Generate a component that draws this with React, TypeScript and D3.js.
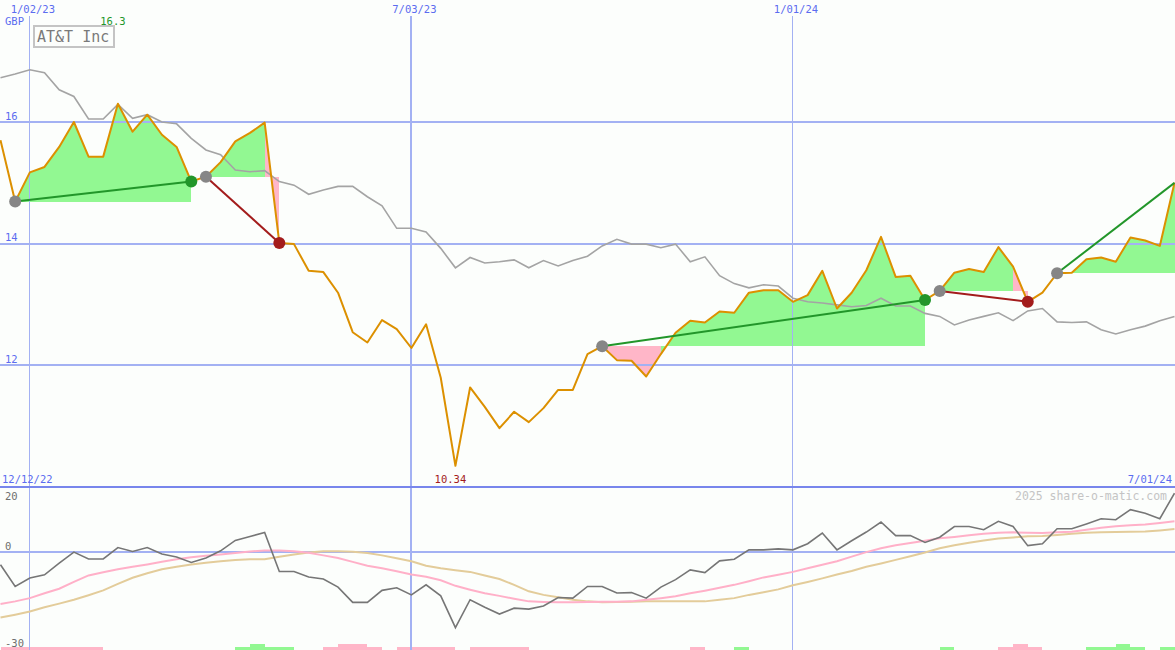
import * as d3 from "d3";

// weekly closes, GBP
const price = [
  15.70, 14.69, 15.17, 15.26, 15.59, 16.00, 15.43, 15.43, 16.30, 15.84,
  16.12, 15.79, 15.59, 15.02, 15.10, 15.34, 15.68, 15.82, 15.99, 14.01,
  13.99, 13.55, 13.53, 13.19, 12.54, 12.37, 12.74, 12.59, 12.28, 12.67,
  11.79, 10.34, 11.63, 11.31, 10.96, 11.23, 11.06, 11.29, 11.59, 11.59,
  12.18, 12.31, 12.08, 12.07, 11.81, 12.18, 12.53, 12.73, 12.70, 12.88,
  12.86, 13.19, 13.23, 13.23, 13.04, 13.15, 13.55, 12.93, 13.19, 13.56,
  14.11, 13.45, 13.47, 13.07, 13.22, 13.52, 13.58, 13.53, 13.94, 13.62,
  13.04, 13.19, 13.51, 13.52, 13.74, 13.77, 13.70, 14.10, 14.05, 13.96, 15.00,
];

// grey average line
const avg = [
  16.73, 16.79, 16.86, 16.81, 16.53, 16.42, 16.05, 16.05, 16.29, 16.06,
  16.12, 16.00, 15.97, 15.73, 15.54, 15.46, 15.21, 15.18, 15.20, 15.02,
  14.96, 14.81, 14.88, 14.94, 14.94, 14.77, 14.62, 14.25, 14.25, 14.19,
  13.92, 13.60, 13.77, 13.68, 13.70, 13.73, 13.60, 13.72, 13.63, 13.72,
  13.79, 13.96, 14.07, 13.99, 13.99, 13.93, 13.99, 13.70, 13.78, 13.47,
  13.34, 13.27, 13.32, 13.30, 13.10, 13.04, 13.02, 12.99, 12.96, 12.98,
  13.10, 12.97, 12.97, 12.85, 12.80, 12.66, 12.74, 12.80, 12.86, 12.73,
  12.89, 12.93, 12.71, 12.70, 12.71, 12.58, 12.51, 12.58, 12.64, 12.73, 12.80,
];

// lower panel
const osc = [
  -4.0, -10.7, -8.1, -7.1, -3.5, -0.1, -2.2, -2.2, 1.3, 0.1,
  1.3, -0.7, -1.6, -3.3, -1.9, 0.3, 3.5, 4.7, 6.0, -6.1,
  -6.1, -7.8, -8.4, -10.9, -15.6, -15.6, -11.9, -11.1, -13.3, -10.2,
  -13.6, -23.4, -14.8, -17.1, -19.2, -17.4, -17.7, -16.7, -14.1, -14.3,
  -10.7, -10.7, -12.7, -12.6, -14.3, -10.9, -8.6, -5.6, -6.4, -2.8,
  -2.3, 0.6, 0.6, 0.9, 0.6, 2.5, 5.8, 0.6, 3.4, 6.1,
  9.2, 5.0, 5.0, 2.9, 4.5, 7.8, 7.8, 6.8, 9.4, 7.8,
  1.9, 2.5, 7.1, 7.1, 8.6, 10.2, 9.9, 13.0, 11.9, 10.2, 18.1,
];
const pinkSig = [
  -16.1, -15.3, -14.3, -12.8, -11.4, -9.3, -7.3, -6.3, -5.4, -4.6,
  -3.9, -3.1, -2.3, -1.7, -1.2, -0.8, -0.4, 0.1, 0.4, 0.4,
  0.2, -0.3, -1.1, -1.9, -3.1, -4.3, -5.1, -6.0, -7.0, -7.7,
  -8.8, -10.5, -11.7, -12.8, -13.6, -14.5, -15.3, -15.5, -15.6, -15.6,
  -15.5, -15.4, -15.4, -15.3, -14.8, -14.3, -13.7, -12.8, -12.0, -11.1,
  -10.2, -9.1, -7.9, -7.1, -6.2, -5.1, -4.0, -2.9, -1.5, -0.1,
  1.1, 2.0, 2.7, 3.4, 4.2, 4.6, 5.1, 5.6, 5.9, 6.0,
  5.9, 5.8, 6.0, 6.2, 6.8, 7.4, 7.9, 8.2, 8.4, 8.9, 9.4,
];
const tanSig = [
  -20.3, -19.4, -18.4, -17.1, -16.0, -14.8, -13.4, -11.9, -9.9, -8.0,
  -6.6, -5.4, -4.6, -3.9, -3.4, -2.9, -2.5, -2.3, -2.3, -1.5,
  -0.8, -0.2, 0.2, 0.2, 0.0, -0.4, -1.1, -2.0, -2.9, -4.3,
  -5.1, -5.7, -6.2, -7.3, -8.4, -10.2, -12.2, -13.3, -14.0, -14.8,
  -15.3, -15.6, -15.5, -15.4, -15.3, -15.3, -15.3, -15.3, -15.3, -14.8,
  -14.3, -13.3, -12.5, -11.6, -10.3, -9.3, -8.2, -7.0, -5.9, -4.6,
  -3.6, -2.5, -1.4, -0.2, 1.1, 2.0, 2.8, 3.5, 4.1, 4.4,
  4.8, 4.9, 5.2, 5.6, 5.9, 6.0, 6.1, 6.2, 6.3, 6.6, 7.0,
];
// weekly signal blocks along the bottom edge (+ green, - pink)
const signalBars = [
  -1, -1, -1, -1, -1, -1, -1, 0, 0, 0, 0, 0, 0, 0, 0, 0,
  1, 2, 1, 1, 0, 0, -1, -2, -2, -1, 0, -1, -1, -1, -1, 0,
  -1, -1, -1, -1, 0, 0, 0, 0, 0, 0, 0, 0, 0, 0, 0, -1, 0, 0,
  1, 0, 0, 0, 0, 0, 0, 0, 0, 0, 0, 0, 0, 0, 1, 0, 0, 0,
  -1, -2, -1, 0, 0, 0, 1, 1, 2, 1, 0, 1,
];

// trades: week index of entry and exit
const tradeEntry = [1, 14, 41, 64, 72];
const tradeExit = [13, 19, 63, 70, 80];
const openTrade = 4;

const mainTicks = [16, 14, 12];
const lowTicks = [20, 0, -30];
const dateTicks = ["2023-01-02", "2023-07-03", "2024-01-01"];
const startLabel = "12/12/22";
const endLabel = "7/01/24";
const title = "AT&T Inc";
const currency = "GBP";
const watermark = "2025 share-o-matic.com";

const startDate = new Date(2022, 11, 19);
const endDate = new Date(2024, 6, 1);
const dates = d3.timeMonday.range(startDate, d3.timeDay.offset(endDate, 1));

const W = 1175;
const H = 650;
const FONT = "'DejaVu Sans Mono', monospace";
const GRID = "#a3b1f3";
const AXIS_TXT = "#5b6cf0";
const GREEN = "#22962a";
const RED = "#a31c1c";
const FILL_UP = "#92f892";
const FILL_DN = "#ffb6c8";

export default function App() {
  const x = d3.scaleTime().domain([startDate, endDate]).range([0.5, 1174.5]);
  const y = d3.scaleLinear().domain([12, 16]).range([365, 122]);
  const yLow = d3.scaleLinear().domain([-30, 20]).range([649, 487]);
  const yBar = d3.scaleLinear().domain([0, 2]).range([650, 643.5]);
  const px = (i: number) => x(dates[i]);

  const mainLine = d3.line<number>().x((_, i) => px(i)).y((d) => y(d));
  const lowLine = d3.line<number>().x((_, i) => px(i)).y((d) => yLow(d));
  const poly = d3.line<number[]>().x((d) => d[0]).y((d) => d[1]);

  const fills: { d: string; c: string }[] = [];
  tradeEntry.forEach((a, t) => {
    const b = tradeExit[t];
    const base = price[a];
    for (let k = a; k < b; k++) {
      const pts = [
        [px(k), y(price[k])],
        [px(k + 1), y(price[k + 1])],
        [px(k + 1), y(base)],
        [px(k), y(base)],
      ];
      fills.push({ d: poly(pts) + "Z", c: price[k + 1] >= base ? FILL_UP : FILL_DN });
    }
  });

  const maxIdx = d3.maxIndex(price);
  const minIdx = d3.minIndex(price);
  const parseD = d3.timeParse("%Y-%m-%d");
  const fmt = d3.timeFormat("%-m/%d/%y");
  const weekW = px(1) - px(0);

  return (
    <svg
      width={W}
      height={H}
      style={{ position: "absolute", left: 0, top: 0, background: "#fcfefc" }}
      fontFamily={FONT}
    >
      {/* signal blocks */}
      <g shapeRendering="crispEdges">
        {signalBars.map((v, i) =>
          v === 0 ? null : (
            <rect
              key={i}
              x={px(i)}
              width={weekW}
              y={yBar(Math.abs(v))}
              height={yBar(0) - yBar(Math.abs(v))}
              fill={v > 0 ? FILL_UP : FILL_DN}
            />
          )
        )}
      </g>

      {/* trade fills */}
      <g shapeRendering="crispEdges">
        {fills.map((f, i) => (
          <path key={i} d={f.d} fill={f.c} />
        ))}
      </g>

      {/* grid */}
      <g shapeRendering="crispEdges">
        {mainTicks.map((t) => (
          <line key={t} x1={0} x2={W} y1={y(t)} y2={y(t)} stroke={GRID} strokeWidth={2} />
        ))}
        <line x1={0} x2={W} y1={yLow(0)} y2={yLow(0)} stroke={GRID} strokeWidth={2} />
        {dateTicks.map((s) => {
          const d = parseD(s)!;
          return (
            <line
              key={s}
              x1={x(d)}
              x2={x(d)}
              y1={16}
              y2={H}
              stroke={GRID}
              strokeWidth={d.getMonth() === 6 ? 2 : 1}
            />
          );
        })}
        <line x1={0} x2={W} y1={yLow(20)} y2={yLow(20)} stroke="#7886ec" strokeWidth={2} />
      </g>

      {/* lower panel lines */}
      <path d={lowLine(tanSig)!} fill="none" stroke="#e3cc9a" strokeWidth={2} />
      <path d={lowLine(pinkSig)!} fill="none" stroke="#ffb0c8" strokeWidth={2} />
      <path d={lowLine(osc)!} fill="none" stroke="#767676" strokeWidth={1.6} />

      {/* price panel lines */}
      <path d={mainLine(avg)!} fill="none" stroke="#a4a4a4" strokeWidth={1.6} />
      <path d={mainLine(price)!} fill="none" stroke="#dc9000" strokeWidth={2} strokeLinejoin="round" />

      {/* trades */}
      {tradeEntry.map((a, t) => {
        const b = tradeExit[t];
        const up = price[b] >= price[a];
        return (
          <line
            key={t}
            x1={px(a)}
            y1={y(price[a])}
            x2={px(b)}
            y2={y(price[b])}
            stroke={up ? GREEN : RED}
            strokeWidth={2}
          />
        );
      })}
      {tradeEntry.map((a, t) => {
        const b = tradeExit[t];
        const up = price[b] >= price[a];
        return (
          <g key={t}>
            <circle cx={px(a)} cy={y(price[a])} r={6} fill="#868686" />
            {t !== openTrade && (
              <circle cx={px(b)} cy={y(price[b])} r={6} fill={up ? GREEN : RED} />
            )}
          </g>
        );
      })}

      {/* labels */}
      <g fontSize={10.5} fill={AXIS_TXT}>
        {dateTicks.map((s) => {
          const d = parseD(s)!;
          return (
            <text key={s} x={x(d) + 3} y={13} textAnchor="middle">
              {fmt(d)}
            </text>
          );
        })}
        <text x={5} y={25}>{currency}</text>
        {mainTicks.map((t) => (
          <text key={t} x={5} y={y(t) - 2.5}>
            {t}
          </text>
        ))}
        <text x={2} y={483}>{startLabel}</text>
        <text x={1172} y={483} textAnchor="end">{endLabel}</text>
      </g>
      <text x={px(maxIdx) - 5} y={25} fontSize={10.5} fill={GREEN} textAnchor="middle">
        {String(price[maxIdx])}
      </text>
      <text x={px(minIdx) - 5} y={483} fontSize={10.5} fill={RED} textAnchor="middle">
        {String(price[minIdx])}
      </text>
      <g fontSize={10.5} fill="#6e6e6e">
        {lowTicks.map((t) => (
          <text key={t} x={5} y={yLow(t) + (t === 20 ? 13 : -2)}>
            {t}
          </text>
        ))}
      </g>
      <text
        x={1015}
        y={500}
        fontSize={12}
        fill="#c4c4c4"
        textLength={152}
        lengthAdjust="spacingAndGlyphs"
      >
        {watermark}
      </text>

      {/* title box */}
      <rect x={34} y={26} width={80} height={21} fill="#fcfefc" stroke="#c4c4c4" strokeWidth={2} />
      <text x={37} y={42} fontSize={15} fill="#7a7a7a">
        {title}
      </text>
    </svg>
  );
}
